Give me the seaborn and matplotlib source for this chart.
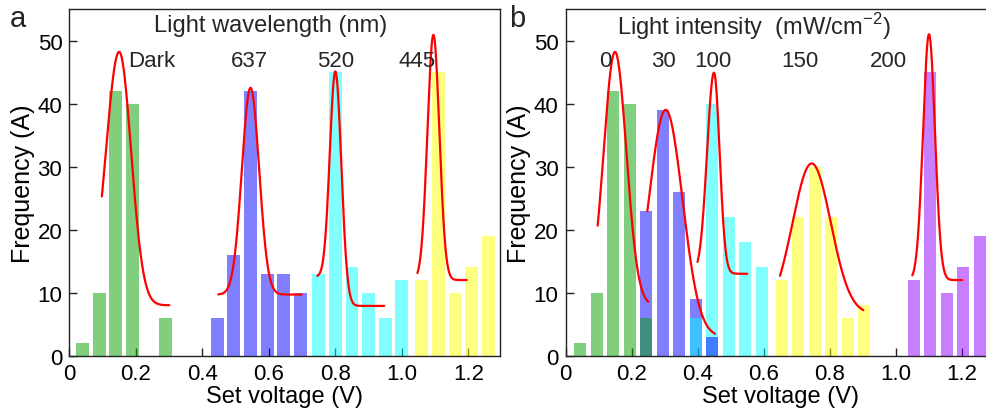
import numpy as np
import pandas as pd
import matplotlib
matplotlib.use("Agg")
import matplotlib.pyplot as plt
import seaborn as sns

# ---------------- data ----------------
# Panel a: light wavelength
a_green_x = [0.04, 0.09, 0.14, 0.19, 0.29]
a_green_y = [2, 10, 42, 40, 6]
a_blue_x = [0.445, 0.495, 0.545, 0.595, 0.645, 0.695]
a_blue_y = [6, 16, 42, 13, 13, 10]
a_cyan_x = [0.75, 0.80, 0.85, 0.90, 0.95, 1.00]
a_cyan_y = [13, 45, 14, 10, 6, 12]
a_yellow_x = [1.06, 1.11, 1.16, 1.21, 1.26]
a_yellow_y = [12, 45, 10, 14, 19]

# Panel b: light intensity
b_green_x = [0.045, 0.095, 0.145, 0.195, 0.245]
b_green_y = [2, 10, 42, 40, 6]
b_blue_x = [0.245, 0.295, 0.345, 0.395, 0.445]
b_blue_y = [23, 39, 26, 9, 3]
b_cyan_x = [0.395, 0.445, 0.495, 0.545, 0.595]
b_cyan_y = [6, 40, 22, 18, 14]
b_yellow_x = [0.655, 0.705, 0.755, 0.805, 0.855, 0.905]
b_yellow_y = [12, 22, 30, 22, 6, 8]
b_purple_x = [1.055, 1.105, 1.155, 1.205, 1.255]
b_purple_y = [12, 45, 10, 14, 19]

# Gaussian fit parameters:
# centre, peak, sigma_left, sigma_right, base_left, base_right, x_start, x_end
a_fit_center = [0.15, 0.545, 0.80, 1.095]
a_fit_peak = [48.2, 42.5, 45.1, 50.9]
a_fit_sig_l = [0.040, 0.026, 0.0165, 0.018]
a_fit_sig_r = [0.036, 0.026, 0.018, 0.018]
a_fit_base_l = [8.0, 9.7, 12.5, 12.0]
a_fit_base_r = [8.0, 9.7, 7.9, 12.0]
a_fit_x0 = [0.098, 0.448, 0.746, 1.047]
a_fit_x1 = [0.301, 0.699, 0.947, 1.195]

b_fit_center = [0.15, 0.3035, 0.45, 0.746, 1.1015]
b_fit_peak = [48.2, 39.0, 44.9, 30.5, 51.0]
b_fit_sig_l = [0.0345, 0.051, 0.021, 0.058, 0.018]
b_fit_sig_r = [0.0345, 0.051, 0.017, 0.058, 0.018]
b_fit_base_l = [8.0, 3.0, 13.0, 6.6, 12.0]
b_fit_base_r = [8.0, 3.0, 13.0, 6.6, 12.0]
b_fit_x0 = [0.0975, 0.248, 0.40, 0.65, 1.051]
b_fit_x1 = [0.251, 0.453, 0.551, 0.9025, 1.2025]

a_labels = ["Dark", "637", "520", "445"]
a_label_x = [0.248, 0.543, 0.80, 1.045]
b_labels = ["0", "30", "100", "150", "200"]
b_label_x = [0.122, 0.296, 0.448, 0.711, 0.978]

xtick_vals = [0, 0.2, 0.4, 0.6, 0.8, 1.0, 1.2]
xtick_labels = ["0", "0.2", "0.4", "0.6", "0.8", "1.0", "1.2"]
ytick_vals = [0, 10, 20, 30, 40, 50]

# ---------------- style ----------------
sns.set_theme(style="ticks")
plt.rcParams["font.family"] = ["Liberation Sans", "DejaVu Sans"]
plt.rcParams["mathtext.fontset"] = "custom"
plt.rcParams["mathtext.rm"] = "Liberation Sans"

C_GREEN = "#00a000"
C_BLUE = "#0000ff"
C_CYAN = "#00ffff"
C_YELLOW = "#ffff00"
C_PURPLE = "#9000ff"

W, H = 986, 414
fig = plt.figure(figsize=(W / 100, H / 100), dpi=100)
ax_a = fig.add_axes([69.3 / W, 1 - 356.7 / H, (500 - 69.3) / W, (356.7 - 10) / H])
ax_b = fig.add_axes([565.5 / W, 1 - 356.7 / H, (994.5 - 565.5) / W, (356.7 - 10) / H])


def draw_bars(ax, xs, ys, color, width, z):
    n0 = len(ax.patches)
    sns.barplot(x=xs, y=ys, native_scale=True, orient="x", color=color,
                saturation=1, alpha=0.5, width=width, errorbar=None,
                edgecolor="none", linewidth=0, ax=ax)
    new = ax.patches[n0:]
    for p in new:
        p.set_zorder(z)
    return new


def fit_curve(c, pk, sl, sr, bl, br, x0, x1):
    xx = np.linspace(x0, x1, 300)
    yy = np.where(xx < c,
                  bl + (pk - bl) * np.exp(-(xx - c) ** 2 / (2 * sl ** 2)),
                  br + (pk - br) * np.exp(-(xx - c) ** 2 / (2 * sr ** 2)))
    return xx, yy


def draw_fits(ax, cs, pks, sls, srs, bls, brs, x0s, x1s):
    for c, pk, sl, sr, bl, br, x0, x1 in zip(cs, pks, sls, srs, bls, brs, x0s, x1s):
        xx, yy = fit_curve(c, pk, sl, sr, bl, br, x0, x1)
        df = pd.DataFrame({"x": xx, "y": yy})
        sns.lineplot(data=df, x="x", y="y", color="#ff0000", linewidth=1.6,
                     sort=False, estimator=None, ax=ax, zorder=4)


# ---- panel a ----
wa = 0.77
draw_bars(ax_a, a_green_x, a_green_y, C_GREEN, wa, 2.0)
draw_bars(ax_a, a_blue_x, a_blue_y, C_BLUE, wa, 2.0)
draw_bars(ax_a, a_cyan_x, a_cyan_y, C_CYAN, wa, 2.0)
draw_bars(ax_a, a_yellow_x, a_yellow_y, C_YELLOW, wa, 2.0)
draw_fits(ax_a, a_fit_center, a_fit_peak, a_fit_sig_l, a_fit_sig_r,
          a_fit_base_l, a_fit_base_r, a_fit_x0, a_fit_x1)

# ---- panel b ----
wb = 0.71
draw_bars(ax_b, b_blue_x, b_blue_y, C_BLUE, wb, 2.0)
draw_bars(ax_b, b_green_x, b_green_y, C_GREEN, wb, 2.2)
cyan_b = draw_bars(ax_b, b_cyan_x, b_cyan_y, C_CYAN, wb, 2.1)
draw_bars(ax_b, b_yellow_x, b_yellow_y, C_YELLOW, wb, 2.0)
draw_bars(ax_b, b_purple_x, b_purple_y, C_PURPLE, wb, 2.0)
# last blue bar sits on top of the cyan bar
for p in ax_b.patches:
    if abs(p.get_x() + p.get_width() / 2 - b_blue_x[-1]) < 1e-6 and p.get_height() == b_blue_y[-1]:
        p.set_zorder(2.3)
draw_fits(ax_b, b_fit_center, b_fit_peak, b_fit_sig_l, b_fit_sig_r,
          b_fit_base_l, b_fit_base_r, b_fit_x0, b_fit_x1)

for ax, xmax in ((ax_a, 1.2953), (ax_b, 1.3)):
    ax.set_xlim(0, xmax)
    ax.set_ylim(0, 55)
    ax.set_xticks(xtick_vals)
    ax.set_xticklabels(xtick_labels)
    ax.set_yticks(ytick_vals)
    ax.set_yticklabels([str(v) for v in ytick_vals])
    ax.tick_params(direction="in", length=6, width=1.0, colors="#222222",
                   labelsize=16, labelcolor="black", top=False, right=False, pad=5)
    for s in ax.spines.values():
        s.set_visible(True)
        s.set_color("#222222")
        s.set_linewidth(1.0)
    ax.set_xlabel("Set voltage (V)", fontsize=17, labelpad=1, color="black")
    ax.set_ylabel("Frequency (A)", fontsize=18, labelpad=2, color="black")
    ax.grid(False)

ax_a.text(0.606, 52.4, "Light wavelength (nm)", ha="center", va="center", fontsize=17)
for s, x in zip(a_labels, a_label_x):
    ax_a.text(x, 46.8, s, ha="center", va="center", fontsize=16, zorder=5)

ax_b.text(0.571, 52.4, r"Light intensity  (mW/cm$^{\mathregular{-2}}$)", ha="center",
          va="center", fontsize=17)
for s, x in zip(b_labels, b_label_x):
    ax_b.text(x, 46.8, s, ha="center", va="center", fontsize=16, zorder=5)

fig.text(10 / W, 1 - 27 / H, "a", ha="left", va="baseline", fontsize=21)
fig.text(509 / W, 1 - 27 / H, "b", ha="left", va="baseline", fontsize=21)

fig.savefig("out.png", dpi=100)
